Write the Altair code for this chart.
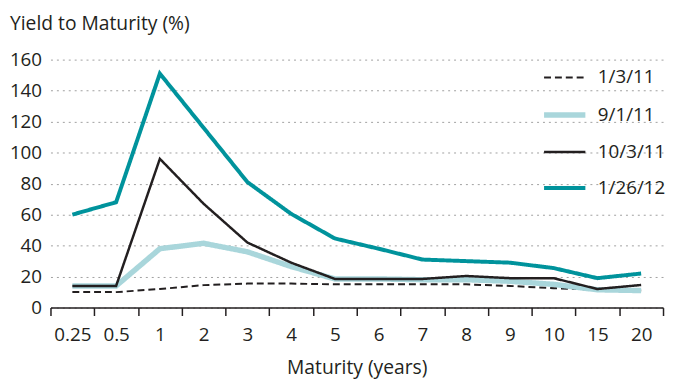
import altair as alt
import pandas as pd

maturities = ["0.25", "0.5", "1", "2", "3", "4", "5", "6", "7", "8", "9", "10", "15", "20"]
series_names = ["1/3/11", "9/1/11", "10/3/11", "1/26/12"]
y_jan11 = [10, 10, 12, 14.5, 15.5, 15.5, 15, 15, 15, 15, 14, 12.5, 11.5, 11]
y_sep11 = [14, 14, 38, 41.5, 36, 26.5, 18.5, 18.5, 18, 18, 17, 15, 11.5, 11]
y_oct11 = [14, 14, 96, 67, 42, 29, 18.5, 18.5, 18.5, 20.4, 19, 19, 12, 14.6]
y_jan12 = [60, 68, 151, 116, 81, 60.5, 44.6, 38, 31, 30, 29, 25.5, 19, 22]
y_ticks = [0, 20, 40, 60, 80, 100, 120, 140, 160]

colors = ["#231f20", "#a9d6db", "#231f20", "#00939c"]
widths = [2, 5.5, 2.5, 4]
dashes = [[7, 4], [1, 0], [1, 0], [1, 0]]

rows = []
for name, vals in zip(series_names, [y_jan11, y_sep11, y_oct11, y_jan12]):
    for m, v in zip(maturities, vals):
        rows.append({"maturity": m, "yield": v, "series": name})
df = pd.DataFrame(rows)

FONT = "Open Sans"
TXT = "#231f20"
FS = 19
TFS = 19.5

leg = alt.Legend(
    title=None, orient="none", legendX=499, legendY=-1.5,
    symbolType="M-1.13,0H1.13", symbolSize=1369,
    labelFontSize=FS, labelColor=TXT, labelFont=FONT,
    labelOffset=12, rowPadding=6, padding=0,
)

chart = alt.Chart(
    df,
    title=alt.TitleParams(
        "Yield to Maturity (%)", anchor="start", frame="group", orient="top",
        fontSize=TFS, fontWeight="normal", color=TXT, font=FONT,
        baseline="alphabetic", dx=-41, dy=17, offset=18,
    ),
).mark_line(strokeCap="butt").encode(
    x=alt.X(
        "maturity:N", sort=maturities,
        scale=alt.Scale(type="band", paddingInner=0, paddingOuter=0),
        axis=alt.Axis(
            title="Maturity (years)", labelAngle=0, tickBand="extent",
            domainColor=TXT, domainWidth=1.5, tickColor=TXT, tickWidth=1.5,
            tickSize=8, labelFontSize=FS, labelColor=TXT, labelPadding=10,
            titleFontSize=TFS, titleFontWeight="normal", titleColor=TXT,
            titlePadding=15, grid=False,
        ),
    ),
    y=alt.Y(
        "yield:Q",
        scale=alt.Scale(domain=[0, 160], nice=False),
        axis=alt.Axis(
            values=y_ticks, title=None,
            domain=False, ticks=False, labelFontSize=FS, labelColor=TXT,
            labelPadding=9, gridDash=[2, 4], gridColor="#a0a0a0", gridWidth=1,
        ),
    ),
    color=alt.Color("series:N", sort=series_names,
                    scale=alt.Scale(domain=series_names, range=colors), legend=leg),
    strokeDash=alt.StrokeDash("series:N", sort=series_names,
                              scale=alt.Scale(domain=series_names, range=dashes), legend=leg),
    strokeWidth=alt.StrokeWidth("series:N", sort=series_names,
                                scale=alt.Scale(type="ordinal", domain=series_names, range=widths),
                                legend=leg),
).properties(
    width=620, height=251, autosize="none",
    padding={"left": 43, "top": 50, "right": 2, "bottom": 70},
).configure(font=FONT).configure_view(stroke=None)

chart.save("out.html", embed_options={"renderer": "svg", "actions": False})
